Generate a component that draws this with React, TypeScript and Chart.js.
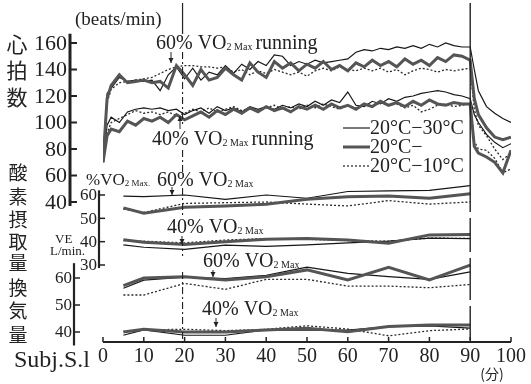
import React, { useEffect, useRef } from 'react';
import { Chart, registerables } from 'chart.js';

Chart.register(...registerables);

// ---------- data ----------
const HR_TIME = [0, 1, 2, 4, 6, 8, 10, 12, 14, 16, 18, 20, 22, 24, 26, 28, 30, 32, 34, 36, 38, 40, 42, 44, 46, 48, 50, 52, 54, 56, 58, 60, 62, 64, 66, 68, 70, 72, 74, 76, 78, 80, 82, 84, 86, 88, 90, 91, 92, 94, 96, 98, 100];

const HR60_WARM = [72, 122, 126, 134, 131, 132, 131, 132, 124, 136, 142, 133, 141, 132, 138, 136, 143, 137, 144, 140, 146, 143, 151, 150, 143, 146, 144, 147, 145, 146, 147, 148, 153, 155, 154, 156, 155, 157, 156, 158, 156, 159, 157, 160, 158, 157, 157, 140, 124, 112, 107, 103, 100];
const HR60_BASE = [70, 118, 128, 136, 130, 131, 132, 130, 131, 126, 143, 136, 128, 140, 132, 134, 141, 136, 132, 145, 138, 134, 146, 141, 145, 139, 144, 141, 146, 140, 143, 139, 145, 142, 147, 143, 146, 142, 148, 144, 147, 143, 149, 146, 151, 150, 147, 118, 106, 96, 89, 87, 89];
const HR60_COOL = [70, 115, 125, 130, 131, 132, 133, 134, 137, 140, 142, 143, 143, 142, 142, 141, 142, 138, 140, 136, 139, 137, 140, 138, 136, 138, 135, 139, 141, 139, 142, 140, 139, 141, 139, 141, 138, 140, 136, 139, 141, 140, 138, 140, 139, 140, 141, 110, 98, 90, 80, 72, 77];

const HR40_WARM = [72, 98, 104, 100, 108, 110, 111, 110, 111, 109, 110, 106, 109, 111, 107, 112, 109, 111, 108, 112, 110, 112, 110, 113, 111, 114, 112, 116, 113, 117, 115, 123, 113, 112, 116, 114, 118, 116, 119, 120, 122, 123, 124, 123, 121, 120, 118, 106, 100, 91, 85, 81, 84];
const HR40_BASE = [70, 90, 95, 93, 101, 98, 103, 101, 104, 100, 106, 102, 105, 108, 104, 109, 106, 110, 107, 111, 108, 112, 109, 111, 108, 112, 110, 113, 110, 114, 111, 113, 110, 114, 112, 116, 113, 115, 112, 116, 113, 117, 114, 113, 115, 114, 114, 82, 77, 74, 70, 62, 79];
const HR40_COOL = [70, 92, 100, 103, 106, 109, 107, 108, 106, 108, 105, 107, 110, 108, 111, 108, 110, 112, 109, 111, 108, 111, 113, 110, 112, 110, 113, 111, 114, 112, 110, 113, 111, 114, 112, 115, 113, 114, 111, 113, 108, 110, 113, 114, 112, 113, 114, 86, 80, 79, 73, 62, 65];

const STEP_TIME = [5, 10, 20, 30, 40, 50, 60, 70, 80, 90];

const VO2_60_WARM = [59.5, 59.3, 60.0, 58.1, 60.0, 58.6, 61.5, 61.8, 62.0, 64.0];
const VO2_60_BASE = [54.5, 52.2, 54.7, 55.3, 56.0, 58.2, 59.3, 59.6, 58.6, 60.5];
const VO2_60_COOL = [54.0, 52.5, 56.4, 56.7, 57.0, 56.1, 55.3, 57.6, 56.1, 57.0];

const VO2_40_WARM = [38.6, 37.6, 36.7, 38.5, 38.0, 38.6, 39.5, 40.2, 41.5, 41.3];
const VO2_40_BASE = [40.8, 39.8, 38.8, 40.0, 41.0, 41.4, 40.7, 39.3, 42.9, 43.1];
const VO2_40_COOL = [40.5, 40.2, 39.5, 40.7, 41.3, 41.0, 40.5, 40.2, 41.5, 41.4];

const VE_60_WARM = [56.2, 59.2, 60.3, 59.8, 61.0, 64.0, 61.7, 60.5, 59.5, 62.3];
const VE_60_BASE = [57.2, 60.0, 60.5, 59.3, 60.5, 63.0, 59.3, 64.0, 59.3, 64.8];
const VE_60_COOL = [53.7, 53.7, 58.0, 55.8, 59.5, 59.5, 57.0, 57.0, 56.4, 57.6];

const VE_40_WARM = [38.8, 40.8, 38.8, 38.8, 40.8, 40.7, 40.7, 42.0, 42.3, 41.4];
const VE_40_BASE = [40.0, 41.0, 40.0, 40.0, 40.7, 41.4, 40.1, 42.0, 42.6, 42.6];
const VE_40_COOL = [40.2, 40.8, 41.0, 40.5, 41.0, 42.3, 41.1, 38.6, 40.5, 41.1];

const X_TICKS = [0, 10, 20, 30, 40, 50, 60, 70, 80, 90, 100];
const HR_TICKS = [160, 140, 120, 100, 80, 60, 40];
const VO2_TICKS = [60, 50, 40, 30];
const VE_TICKS = [60, 50, 40];
const LEGEND_LABELS = ['20°C−30°C', '20°C−', '20°C−10°C'];
const HR_TITLE = ['心', '拍', '数'];
const VO2_TITLE = ['酸', '素', '摂', '取', '量'];
const VE_TITLE = ['換', '気', '量'];

// ---------- layout ----------
const W = 531;
const H = 384;
const AREA = { left: 103, right: 511, top: 3, bottom: 342 };
const INK = '#222';
const SERIF = '"Liberation Serif", "DejaVu Serif", serif';
const CJK = '"Noto Sans CJK JP", "Noto Sans CJK SC", sans-serif';

function fit(v1: number, p1: number, v2: number, p2: number) {
  const k = (v1 - v2) / (p2 - p1);
  return { max: v1 + (p1 - AREA.top) * k, min: v2 - (AREA.bottom - p2) * k };
}

const STYLES: Record<string, any> = {
  warm: { borderColor: '#161616', borderWidth: 1.2 },
  base: { borderColor: '#555', borderWidth: 3 },
  cool: { borderColor: '#2a2a2a', borderWidth: 1.3, borderDash: [2, 2] },
};

function series(label: string, times: number[], vals: number[], axis: string, style: string) {
  return {
    label,
    data: times.map((t, i) => ({ x: t, y: vals[i] })),
    yAxisID: axis,
    xAxisID: 'x',
    pointRadius: 0,
    tension: 0,
    fill: false,
    ...STYLES[style],
  };
}

function drawRuns(ctx: CanvasRenderingContext2D, x: number, y: number, runs: [string, number, number?, number?][]) {
  ctx.textAlign = 'left';
  for (const [t, size, dy, gap] of runs) {
    x += gap || 0;
    ctx.font = `${size}px ${SERIF}`;
    ctx.fillText(t, x, y + (dy || 0));
    x += ctx.measureText(t).width;
  }
}

function arrow(ctx: CanvasRenderingContext2D, x: number, y1: number, y2: number) {
  ctx.lineWidth = 1;
  ctx.setLineDash([]);
  ctx.beginPath();
  ctx.moveTo(x, y1);
  ctx.lineTo(x, y2);
  ctx.stroke();
  const d = y2 > y1 ? 1 : -1;
  ctx.beginPath();
  ctx.moveTo(x, y2);
  ctx.lineTo(x - 2.5, y2 - d * 5);
  ctx.lineTo(x + 2.5, y2 - d * 5);
  ctx.closePath();
  ctx.fill();
}

function vLine(ctx: CanvasRenderingContext2D, x: number, y1: number, y2: number, w: number, dash: number[] = []) {
  ctx.lineWidth = w;
  ctx.setLineDash(dash);
  ctx.beginPath();
  ctx.moveTo(x, y1);
  ctx.lineTo(x, y2);
  ctx.stroke();
  ctx.setLineDash([]);
}

function hLine(ctx: CanvasRenderingContext2D, x1: number, x2: number, y: number, w: number, dash: number[] = []) {
  ctx.lineWidth = w;
  ctx.setLineDash(dash);
  ctx.beginPath();
  ctx.moveTo(x1, y);
  ctx.lineTo(x2, y);
  ctx.stroke();
  ctx.setLineDash([]);
}

const overlay = {
  id: 'overlay',
  afterDatasetsDraw(chart: any) {
    const ctx: CanvasRenderingContext2D = chart.ctx;
    const xs = chart.scales.x;
    const hr = chart.scales.hr;
    const vo2 = chart.scales.vo2;
    const ve = chart.scales.ve;
    ctx.save();
    ctx.fillStyle = INK;
    ctx.strokeStyle = INK;
    ctx.textBaseline = 'middle';

    // heart-rate axis
    vLine(ctx, 70, hr.getPixelForValue(167), hr.getPixelForValue(37), 3);
    ctx.font = `22px ${SERIF}`;
    ctx.textAlign = 'right';
    for (const v of HR_TICKS) {
      const y = hr.getPixelForValue(v);
      hLine(ctx, 70, 77, y, 2);
      ctx.fillText(String(v), 67, y + 1);
    }
    ctx.font = `21px ${CJK}`;
    ctx.textAlign = 'center';
    HR_TITLE.forEach((c, i) => ctx.fillText(c, 17, hr.getPixelForValue(HR_TICKS[i]) + 1));
    ctx.font = `19px ${SERIF}`;
    ctx.textAlign = 'left';
    ctx.fillText('(beats/min)', 75, 20);

    // VO2 axis
    vLine(ctx, 99, vo2.getPixelForValue(62), vo2.getPixelForValue(28.7), 2.2);
    ctx.font = `17px ${SERIF}`;
    ctx.textAlign = 'right';
    for (const v of VO2_TICKS) {
      const y = vo2.getPixelForValue(v);
      hLine(ctx, 99, 105, y, 1.5);
      ctx.fillText(String(v), 97, y + 1);
    }
    ctx.font = `19px ${CJK}`;
    ctx.textAlign = 'center';
    [173, 197, 220, 242, 263].forEach((y, i) => ctx.fillText(VO2_TITLE[i], 18, y));

    // VE axis
    vLine(ctx, 74, ve.getPixelForValue(65.5), ve.getPixelForValue(35), 2.2);
    ctx.font = `17px ${SERIF}`;
    ctx.textAlign = 'right';
    for (const v of VE_TICKS) {
      const y = ve.getPixelForValue(v);
      hLine(ctx, 74, 80, y, 1.5);
      ctx.fillText(String(v), 72, y + 1);
    }
    ctx.font = `19px ${CJK}`;
    ctx.textAlign = 'center';
    [288, 311, 335].forEach((y, i) => ctx.fillText(VE_TITLE[i], 18, y));
    ctx.font = `13px ${SERIF}`;
    ctx.textAlign = 'left';
    ctx.fillText('VE', 55, 240);
    ctx.font = `13px ${SERIF}`;
    ctx.fillText('L/min.', 50, 252);

    // x axis
    const x0 = xs.getPixelForValue(X_TICKS[0]);
    const x1 = xs.getPixelForValue(X_TICKS[X_TICKS.length - 1]);
    hLine(ctx, x0, x1, AREA.bottom, 2.2);
    ctx.font = `20px ${SERIF}`;
    ctx.textAlign = 'center';
    for (const v of X_TICKS) {
      const x = xs.getPixelForValue(v);
      vLine(ctx, x, AREA.bottom - 5, AREA.bottom, 1.5);
      ctx.fillText(String(v), x, 357);
    }
    ctx.font = `14px ${CJK}`;
    ctx.fillText('(分)', 492, 374);
    ctx.font = `24px ${SERIF}`;
    ctx.textAlign = 'left';
    ctx.fillText('Subj.S.l', 14, 361);

    // marker lines at start of 60% run and end of exercise
    const xm = xs.getPixelForValue(19.5);
    vLine(ctx, xm, 3, 34, 1.2);
    const dd = [7, 3, 2, 3];
    [[52, 124], [150, 172], [188, 218], [239, 256], [272, 340]].forEach(([a, b]) => vLine(ctx, xm, a, b, 1.1, dd));
    const xe = xs.getPixelForValue(90);
    [[3, 212], [218, 252], [258, 300], [306, 340]].forEach(([a, b]) => vLine(ctx, xe, a, b, 1.4));

    // labels
    drawRuns(ctx, 156, 44, [['60% VO', 20], ['2 Max', 10, 3], ['running', 20, 0, 3]]);
    arrow(ctx, 171, 52, 63);
    drawRuns(ctx, 152, 140, [['40% VO', 20], ['2 Max', 10, 3], ['running', 20, 0, 3]]);
    arrow(ctx, 180, 129, 116);
    drawRuns(ctx, 86, 181, [['%VO', 17], ['2 Max.', 9, 3]]);
    drawRuns(ctx, 157, 181, [['60% VO', 20], ['2 Max', 10, 3]]);
    arrow(ctx, 172, 187, 195);
    drawRuns(ctx, 167, 228, [['40% VO', 20], ['2 Max', 10, 3]]);
    arrow(ctx, 182, 236, 244);
    drawRuns(ctx, 203, 262, [['60% VO', 20], ['2 Max', 10, 3]]);
    arrow(ctx, 213, 270, 277);
    drawRuns(ctx, 202, 310, [['40% VO', 20], ['2 Max', 10, 3]]);
    arrow(ctx, 216, 318, 327);

    // legend
    const legY = [128, 147, 166];
    hLine(ctx, 343, 370, legY[0], 1.2);
    ctx.strokeStyle = '#555';
    hLine(ctx, 343, 370, legY[1], 3);
    ctx.strokeStyle = INK;
    hLine(ctx, 343, 370, legY[2], 1.2, [2, 2]);
    ctx.font = `20px ${SERIF}`;
    ctx.textAlign = 'left';
    LEGEND_LABELS.forEach((t, i) => ctx.fillText(t, 370, legY[i] + 1));

    ctx.restore();
  },
};

export default function App() {
  const ref = useRef<HTMLCanvasElement>(null);
  useEffect(() => {
    const chart = new Chart(ref.current as HTMLCanvasElement, {
      type: 'line',
      data: {
        datasets: [
          series('HR 60% 20°C−', HR_TIME, HR60_BASE, 'hr', 'base'),
          series('HR 40% 20°C−', HR_TIME, HR40_BASE, 'hr', 'base'),
          series('HR 60% 20°C−30°C', HR_TIME, HR60_WARM, 'hr', 'warm'),
          series('HR 40% 20°C−30°C', HR_TIME, HR40_WARM, 'hr', 'warm'),
          series('HR 60% 20°C−10°C', HR_TIME, HR60_COOL, 'hr', 'cool'),
          series('HR 40% 20°C−10°C', HR_TIME, HR40_COOL, 'hr', 'cool'),
          series('VO2 60% 20°C−', STEP_TIME, VO2_60_BASE, 'vo2', 'base'),
          series('VO2 40% 20°C−', STEP_TIME, VO2_40_BASE, 'vo2', 'base'),
          series('VO2 60% 20°C−30°C', STEP_TIME, VO2_60_WARM, 'vo2', 'warm'),
          series('VO2 40% 20°C−30°C', STEP_TIME, VO2_40_WARM, 'vo2', 'warm'),
          series('VO2 60% 20°C−10°C', STEP_TIME, VO2_60_COOL, 'vo2', 'cool'),
          series('VO2 40% 20°C−10°C', STEP_TIME, VO2_40_COOL, 'vo2', 'cool'),
          series('VE 60% 20°C−', STEP_TIME, VE_60_BASE, 've', 'base'),
          series('VE 40% 20°C−', STEP_TIME, VE_40_BASE, 've', 'base'),
          series('VE 60% 20°C−30°C', STEP_TIME, VE_60_WARM, 've', 'warm'),
          series('VE 40% 20°C−30°C', STEP_TIME, VE_40_WARM, 've', 'warm'),
          series('VE 60% 20°C−10°C', STEP_TIME, VE_60_COOL, 've', 'cool'),
          series('VE 40% 20°C−10°C', STEP_TIME, VE_40_COOL, 've', 'cool'),
        ] as any,
      },
      options: {
        responsive: false,
        maintainAspectRatio: false,
        animation: false,
        events: [],
        layout: { padding: { left: AREA.left, right: W - AREA.right, top: AREA.top, bottom: H - AREA.bottom } },
        plugins: { legend: { display: false }, tooltip: { enabled: false } },
        scales: {
          x: { type: 'linear', min: 0, max: 100, display: false },
          hr: { type: 'linear', display: false, ...fit(160, 43, 40, 202) },
          vo2: { type: 'linear', display: false, ...fit(60, 195, 30, 265) },
          ve: { type: 'linear', display: false, ...fit(60, 278, 40, 332) },
        },
      } as any,
      plugins: [overlay],
    });
    return () => chart.destroy();
  }, []);
  return (
    <div style={{ position: 'fixed', left: 0, top: 0, width: W, height: H, background: '#fff' }}>
      <canvas ref={ref} width={W} height={H} style={{ display: 'block', width: W, height: H }} />
    </div>
  );
}
